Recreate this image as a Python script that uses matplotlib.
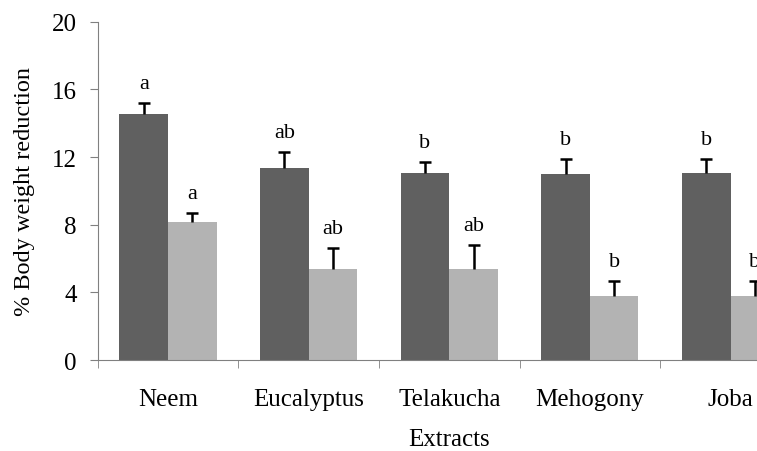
import numpy as np
import matplotlib.pyplot as plt

plt.rcParams['font.family'] = ['Liberation Serif', 'DejaVu Serif']

# Data
extracts = ['Neem', 'Eucalyptus', 'Telakucha', 'Mehogony', 'Joba']
dark_vals = [14.54, 11.37, 11.05, 10.99, 11.05]
dark_err = [0.65, 0.92, 0.65, 0.89, 0.83]
light_vals = [8.17, 5.36, 5.36, 3.80, 3.80]
light_err = [0.54, 1.28, 1.45, 0.89, 0.89]
dark_letters = ['a', 'ab', 'b', 'b', 'b']
light_letters = ['a', 'ab', 'ab', 'b', 'b']

fig = plt.figure(figsize=(7.57, 4.52), dpi=100)
# Axes runs past the right edge, as in the original crop.
ax = fig.add_axes([0.129, 0.2013, 0.929, 0.7485])

x = np.arange(len(extracts))
w = 0.345
ax.bar(x - w / 2, dark_vals, w, color='#606060', zorder=2)
ax.bar(x + w / 2, light_vals, w, color='#b3b3b3', zorder=2)
for xs, vals, errs in [(x - w / 2, dark_vals, dark_err), (x + w / 2, light_vals, light_err)]:
    eb = ax.errorbar(xs, vals, yerr=[np.zeros(5), errs], fmt='none',
                     ecolor='black', elinewidth=1.8, capsize=4, capthick=1.8, zorder=3)
    # only the upper cap is drawn in the original
    eb[1][0].set_visible(False)

# Significance letters
for i in range(len(extracts)):
    ax.text(x[i] - w / 2, dark_vals[i] + dark_err[i] + 0.6, dark_letters[i],
            ha='center', va='bottom', fontsize=16)
    ax.text(x[i] + w / 2, light_vals[i] + light_err[i] + 0.6, light_letters[i],
            ha='center', va='bottom', fontsize=16)

ax.set_xlim(-0.5, len(extracts) - 0.5)
ax.set_ylim(0, 20)
ax.set_yticks([0, 4, 8, 12, 16, 20])
ax.set_xticks(x)
ax.set_xticklabels(extracts)
ax.set_xticks(np.arange(len(extracts) + 1) - 0.5, minor=True)
ax.tick_params(axis='x', which='major', length=0, pad=20, labelsize=18)
ax.tick_params(axis='x', which='minor', length=6, color='#808080', direction='out')
ax.tick_params(axis='y', length=6, color='#808080', pad=9, labelsize=18)

ax.spines['top'].set_visible(False)
ax.spines['right'].set_visible(False)
ax.spines['left'].set_color('#808080')
ax.spines['bottom'].set_color('#808080')

ax.set_ylabel('% Body weight reduction', fontsize=17.5, labelpad=12)
ax.set_xlabel('Extracts', fontsize=18, labelpad=13)

fig.savefig('out.png', dpi=100)
